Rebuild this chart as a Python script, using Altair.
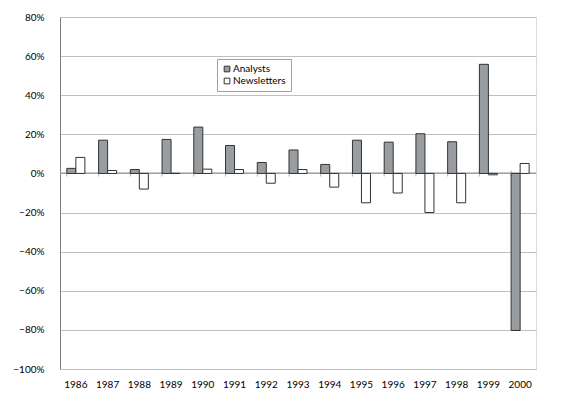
import altair as alt
import pandas as pd

years = [str(y) for y in range(1986, 2001)]
analysts = [2.6, 17.0, 2.0, 17.4, 23.7, 14.3, 5.6, 12.0, 4.6, 17.0, 16.0, 20.3, 16.2, 55.8, -80.3]
newsletters = [8.2, 1.5, -8.0, 0.0, 2.2, 2.0, -5.0, 2.0, -7.0, -15.0, -10.0, -20.0, -15.0, -0.7, 5.1]
series = ["Analysts", "Newsletters"]
y_ticks = [-1.0, -0.8, -0.6, -0.4, -0.2, 0.0, 0.2, 0.4, 0.6, 0.8]

rows = []
for i, y in enumerate(years):
    rows.append({"year": y, "series": series[0], "value": analysts[i] / 100})
    rows.append({"year": y, "series": series[1], "value": newsletters[i] / 100})
df = pd.DataFrame(rows)
zero = pd.DataFrame({"year": years, "value": [0.0] * len(years)})

FONT = "Lato"
xscale = alt.Scale(paddingInner=0.432, paddingOuter=0.216)
yscale = alt.Scale(domain=[-1.0, 0.8], nice=False)

xaxis = alt.Axis(title=None, labelAngle=0, ticks=False, domain=False, grid=False,
                 labelPadding=10, labelFont=FONT, labelFontSize=10, labelColor="#000000")
yaxis = alt.Axis(title=None, format=".0%", values=y_ticks, labelOverlap=False,
                 grid=True, ticks=False, labelPadding=16, labelFont=FONT,
                 labelFontSize=10, labelColor="#000000", domainColor="#808080",
                 gridColor="#c0c0c0", gridWidth=1)

X = alt.X("year:N", scale=xscale, sort=years, axis=xaxis)
Y = alt.Y("value:Q", scale=yscale, axis=yaxis)

bars = alt.Chart(df).mark_bar(stroke="#333333", strokeWidth=1).encode(
    x=X,
    xOffset=alt.XOffset("series:N", sort=series),
    y=Y,
    fill=alt.Fill("series:N", sort=series,
                  scale=alt.Scale(domain=series, range=["#9a9da0", "#ffffff"]),
                  legend=alt.Legend(title=None, orient="none", legendX=157, legendY=42,
                                    direction="vertical", symbolType="square", symbolSize=32,
                                    symbolStrokeColor="#333333", symbolStrokeWidth=1,
                                    labelFont=FONT, labelFontSize=10, labelColor="#000000",
                                    strokeColor="#a0a0a0", fillColor="#ffffff",
                                    padding=5, rowPadding=2, labelOffset=1)),
)

zline = alt.Chart(zero).mark_rule(color="#a0a0a0", strokeWidth=1).encode(y=Y)

ticks = alt.Chart(zero).mark_tick(orient="vertical", size=6, thickness=1, color="#909090").encode(
    x=alt.X("year:N", scale=xscale, sort=years, bandPosition=0, axis=xaxis),
    y=Y,
)

chart = alt.layer(zline, ticks, bars).properties(
    width=476, height=352,
    autosize=alt.AutoSizeParams(type="none"),
    padding={"left": 52, "top": 9, "right": 20, "bottom": 30},
).configure_view(stroke="#c0c0c0", strokeWidth=1).configure(background="#ffffff")

chart.save("out.html", embed_options={"renderer": "svg", "actions": False})
